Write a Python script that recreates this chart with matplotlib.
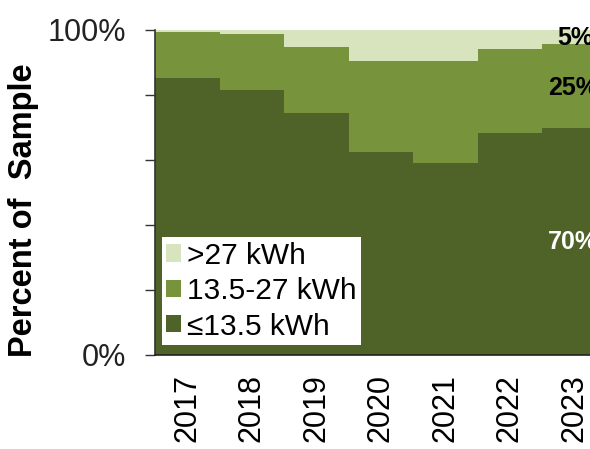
import numpy as np
import matplotlib
matplotlib.use('Agg')
import matplotlib.pyplot as plt
from matplotlib.patches import Patch

plt.rcParams['font.family'] = ['Liberation Sans', 'DejaVu Sans']

years = ['2017', '2018', '2019', '2020', '2021', '2022', '2023']
low = [85.1, 81.5, 74.4, 62.6, 59.0, 68.4, 70.0]    # <=13.5 kWh
mid = [14.2, 17.4, 20.5, 28.0, 31.6, 25.7, 25.7]    # 13.5-27 kWh
high = [100 - a - b for a, b in zip(low, mid)]       # >27 kWh

names = ['>27 kWh', '13.5-27 kWh', '\u226413.5 kWh']
colors = ['#D7E4BD', '#77933C', '#4F6228']

fig = plt.figure(figsize=(5.9, 4.49), dpi=100)
ax = fig.add_axes([155 / 590, 94 / 449, 451.5 / 590, 325 / 449])

x = np.arange(len(years))
low = np.array(low)
mid = np.array(mid)
high = np.array(high)
ax.bar(x, low, width=1.0, color=colors[2], linewidth=0)
ax.bar(x, mid, width=1.0, bottom=low, color=colors[1], linewidth=0)
ax.bar(x, high, width=1.0, bottom=low + mid, color=colors[0], linewidth=0)

ax.set_xlim(-0.5, 6.5)
ax.set_ylim(0, 100)

ax.set_yticks([0, 20, 40, 60, 80, 100])
ax.set_yticklabels(['0%', '', '', '', '', '100%'], fontsize=22)
ax.tick_params(axis='y', direction='out', length=7, width=1, pad=14, colors='#333333', labelcolor='#222222')
ax.set_xticks(x)
ax.set_xticklabels(years, rotation=90, fontsize=22)
ax.tick_params(axis='x', length=0, pad=14)

for s in ['top', 'right']:
    ax.spines[s].set_visible(False)
ax.spines['left'].set_color('#333333')
ax.spines['bottom'].set_color('#222222')
ax.spines['left'].set_linewidth(1.2)
ax.spines['bottom'].set_linewidth(1.2)

# end labels for 2023 (cut by the right edge, as in the source)
ax.text(5.73, 97.5, '5%', fontsize=18, fontweight='bold', va='center', ha='left', color='black')
ax.text(5.59, 82.2, '25%', fontsize=18, fontweight='bold', va='center', ha='left', color='black')
ax.text(5.59, 34.8, '70%', fontsize=18, fontweight='bold', va='center', ha='left', color='white')

handles = [Patch(facecolor=c, edgecolor='none') for c in colors]
leg = ax.legend(handles, names, loc='lower left', bbox_to_anchor=(7 / 451.5, 10 / 325),
                fontsize=21.5, frameon=True, fancybox=False, framealpha=1,
                handlelength=0.5, handleheight=0.5, handletextpad=0.2,
                labelspacing=0.25, borderpad=0.15, borderaxespad=0)
leg.get_frame().set_edgecolor('none')
leg.get_frame().set_facecolor('white')

fig.text(24 / 590, 1 - 210 / 449, 'Percent of  Sample', rotation=90, fontsize=23.5,
         fontweight='bold', ha='center', va='center')

fig.savefig('out.png', dpi=100)
